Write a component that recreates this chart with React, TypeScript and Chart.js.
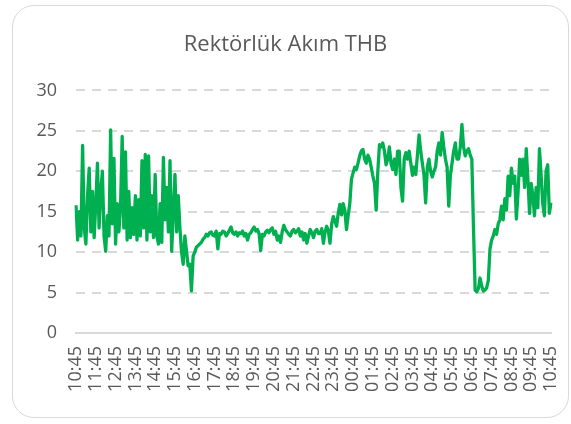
import React, { useEffect, useRef } from "react";
import { Chart, registerables } from "chart.js";

Chart.register(...registerables);

const TITLE = "Rektörlük Akım THB";

const TIME_LABELS = [
  "10:45", "11:45", "12:45", "13:45", "14:45", "15:45", "16:45", "17:45",
  "18:45", "19:45", "20:45", "21:45", "22:45", "23:45", "00:45", "01:45",
  "02:45", "03:45", "04:45", "05:45", "06:45", "07:45", "08:45", "09:45", "10:45",
];

// one reading every 5 minutes, 10:45 -> 10:45 next day
const CURRENT_THD = [
  15.8, 11.5, 15.0, 12.0, 23.2, 13.0, 11.0, 17.0, 20.4, 12.5,
  17.5, 11.8, 16.0, 21.0, 13.0, 17.5, 20.0, 12.0, 10.1, 14.5,
  12.0, 25.1, 13.5, 21.6, 11.0, 16.0, 12.5, 15.5, 24.3, 13.0,
  22.4, 11.5, 17.5, 11.8, 15.5, 12.2, 17.0, 11.5, 16.5, 12.0,
  21.3, 13.0, 22.1, 11.5, 21.9, 12.5, 17.0, 11.8, 19.6, 12.0,
  11.0, 16.0, 11.2, 21.7, 14.0, 18.0, 12.5, 21.3, 10.1, 15.0,
  19.6, 12.5, 17.0, 13.0, 10.0, 8.5, 12.0, 10.1, 8.3, 8.5,
  5.2, 9.5, 10.0, 10.6, 10.8, 11.0, 11.2, 11.6, 11.8, 12.2,
  12.0, 12.4, 12.5, 12.1, 12.0, 12.6, 10.4, 12.3, 12.2, 12.6,
  12.5, 12.0, 12.3, 12.7, 13.1, 12.4, 12.2, 12.5, 12.0, 12.4,
  12.3, 12.6, 12.0, 12.3, 11.5, 12.2, 12.4, 12.8, 13.1, 12.6,
  12.8, 12.3, 10.2, 12.2, 12.0, 12.5, 12.7, 12.4, 12.8, 13.0,
  12.2, 12.6, 11.5, 12.0, 11.2, 12.5, 13.3, 12.8, 12.5, 12.2,
  12.0, 12.6, 12.8, 12.4, 12.6, 12.9, 12.0, 12.5, 11.5, 12.3,
  11.1, 12.0, 12.8, 12.4, 11.8, 12.6, 12.8, 12.3, 12.3, 12.9,
  11.1, 12.5, 13.2, 12.6, 11.1, 13.5, 14.4, 13.8, 13.2, 14.8,
  15.9, 14.6, 16.0, 15.2, 12.8, 14.5, 16.0, 19.0, 19.8, 20.5,
  20.2, 21.0, 21.9, 22.5, 22.7, 21.5, 21.0, 22.0, 21.5, 20.5,
  19.4, 18.5, 15.2, 20.0, 23.3, 23.0, 23.5, 22.5, 20.8, 21.5,
  23.0, 21.0, 20.2, 21.5, 19.6, 22.5, 22.5, 18.0, 16.3, 21.5,
  22.3, 21.5, 22.5, 21.0, 19.5, 20.5, 19.6, 22.0, 24.5, 22.5,
  21.0, 19.5, 16.1, 20.5, 21.5, 20.0, 19.3, 20.0, 20.5, 22.5,
  23.5, 22.0, 24.8, 23.0, 21.5, 20.5, 15.7, 19.5, 21.0, 22.5,
  23.5, 21.5, 21.5, 23.0, 25.8, 23.0, 21.9, 22.5, 22.8, 22.0,
  21.5, 13.0, 5.3, 5.1, 5.5, 6.8, 5.8, 5.2, 5.3, 5.6,
  6.5, 10.4, 11.5, 12.0, 12.8, 12.2, 13.5, 14.0, 15.7, 14.0,
  16.6, 15.2, 19.4, 17.0, 20.4, 18.5, 19.4, 14.1, 17.3, 21.5,
  19.5, 21.5, 18.0, 22.8, 19.0, 14.8, 18.5, 17.0, 14.5, 18.0,
  15.5, 22.8, 19.5, 16.0, 14.5, 20.0, 20.8, 14.8, 16.1,
];

const Y_MIN = 0;
const Y_MAX = 30;
const Y_STEP = 5;
const POINTS_PER_LABEL = 12;

const TEXT = "#595959";
const GRID = "#d9d9d9";
const GREEN = "#00B050";

export default function App() {
  const ref = useRef<HTMLCanvasElement>(null);

  useEffect(() => {
    if (!ref.current) return;
    const labels = CURRENT_THD.map((_, i) =>
      i % POINTS_PER_LABEL === 0 ? TIME_LABELS[i / POINTS_PER_LABEL] : ""
    );
    const chart = new Chart(ref.current, {
      type: "line",
      data: {
        labels,
        datasets: [
          {
            data: CURRENT_THD,
            borderColor: GREEN,
            borderWidth: 3.3,
            pointRadius: 0,
            tension: 0,
            borderJoinStyle: "round",
            fill: false,
          },
        ],
      },
      options: {
        responsive: false,
        animation: false,
        layout: { padding: { left: 20, right: 20, top: 0, bottom: 0 } },
        plugins: {
          legend: { display: false },
          tooltip: { enabled: false },
          title: {
            display: true,
            text: TITLE,
            color: TEXT,
            font: { family: "'Open Sans', sans-serif", size: 22, weight: "normal" },
            padding: { top: 32, bottom: 32 },
          },
        },
        scales: {
          x: {
            grid: { display: false, drawTicks: false },
            border: { display: true, color: GRID, width: 2 },
            ticks: {
              autoSkip: false,
              minRotation: 90,
              maxRotation: 90,
              padding: 13,
              color: TEXT,
              font: { family: "'Open Sans', sans-serif", size: 18 },
            },
            afterFit: (s: any) => {
              s.height = 91;
              s.paddingLeft = 0;
              s.paddingRight = 0;
            },
          },
          y: {
            min: Y_MIN,
            max: Y_MAX,
            ticks: {
              stepSize: Y_STEP,
              padding: 19,
              color: TEXT,
              font: { family: "'Open Sans', sans-serif", size: 18 },
            },
            grid: { color: GRID, lineWidth: 2, drawTicks: false },
            border: { display: false, dash: [9, 7] },
            afterFit: (s: any) => {
              s.width = 56;
            },
          },
        },
      },
    });
    return () => chart.destroy();
  }, []);

  return (
    <div style={{ position: "absolute", left: 0, top: 0, width: 571, height: 424, background: "#fff" }}>
      <div
        style={{
          position: "absolute",
          left: 12,
          top: 5,
          width: 557,
          height: 413,
          border: "1.5px solid #d9d9d9",
          borderRadius: 22,
          boxSizing: "border-box",
        }}
      />
      <canvas ref={ref} width={571} height={424} style={{ position: "absolute", left: 0, top: 0 }} />
    </div>
  );
}
